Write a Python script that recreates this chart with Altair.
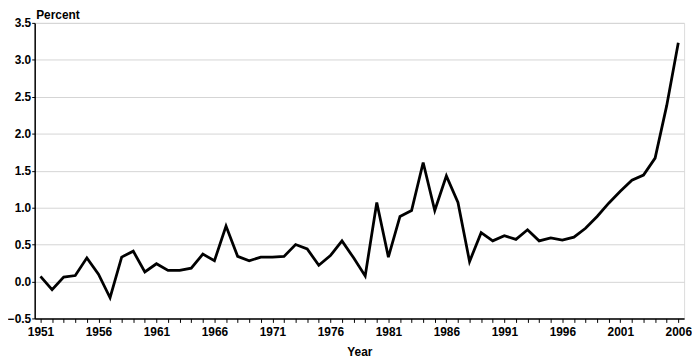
import altair as alt
import pandas as pd

years = list(range(1951, 2007))
percent = [
    0.07, -0.11, 0.06, 0.08, 0.32, 0.10, -0.22, 0.33, 0.41, 0.13,
    0.24, 0.15, 0.15, 0.18, 0.37, 0.28, 0.75, 0.34, 0.28, 0.33,
    0.33, 0.34, 0.50, 0.44, 0.22, 0.35, 0.55, 0.32, 0.075, 1.07,
    0.33, 0.88, 0.96, 1.61, 0.96, 1.43, 1.07, 0.27, 0.66, 0.55,
    0.62, 0.57, 0.70, 0.55, 0.59, 0.56, 0.60, 0.72, 0.88, 1.06,
    1.22, 1.37, 1.44, 1.67, 2.38, 3.23,
]
y_ticks = [-0.5, 0.0, 0.5, 1.0, 1.5, 2.0, 2.5, 3.0, 3.5]

df = pd.DataFrame({"Year": years, "Percent": percent})

FONT = "Liberation Sans"

chart = (
    alt.Chart(df)
    .mark_line(color="black", strokeWidth=2.8, strokeJoin="miter")
    .encode(
        x=alt.X(
            "Year:Q",
            scale=alt.Scale(domain=[1950.5, 2006.5], nice=False, zero=False),
            axis=alt.Axis(
                values=years,
                labelExpr="(datum.value - 1951) % 5 == 0 ? format(datum.value, 'd') : ''",
                grid=False,
                tickSize=4,
                tickColor="black",
                domainColor="black",
                domainWidth=1.5,
                labelPadding=4,
                labelFontSize=12,
                labelFontWeight="bold",
                labelColor="black",
                labelFont=FONT,
                labelOverlap=False,
                labelFlush=False,
                title="Year",
                titleFont=FONT,
                titleFontSize=12,
                titleFontWeight="bold",
                titleColor="black",
                titleY=38,
                titleBaseline="alphabetic",
            ),
        ),
        y=alt.Y(
            "Percent:Q",
            scale=alt.Scale(domain=[-0.5, 3.5], nice=False, zero=False),
            axis=alt.Axis(
                values=y_ticks,
                format=".1f",
                grid=True,
                gridColor="#d4d4d4",
                gridWidth=1,
                tickSize=3,
                tickColor="black",
                domainColor="black",
                domainWidth=1.5,
                labelPadding=1,
                labelFontSize=12,
                labelFontWeight="bold",
                labelColor="black",
                labelFont=FONT,
                labelFlush=False,
                title="Percent",
                titleFont=FONT,
                titleFontSize=12,
                titleFontWeight="bold",
                titleColor="black",
                titleAngle=0,
                titleAlign="left",
                titleBaseline="alphabetic",
                titleX=1,
                titleY=-4,
            ),
        ),
    )
    .properties(
        width=657,
        height=299,
        autosize=alt.AutoSizeParams(type="none"),
        padding={"left": 27, "top": 13, "right": 8, "bottom": 40},
    )
    .configure_view(stroke="#cccccc", strokeWidth=1)
    .configure(background="white")
)

chart.save("out.html", embed_options={"renderer": "svg", "actions": False})
